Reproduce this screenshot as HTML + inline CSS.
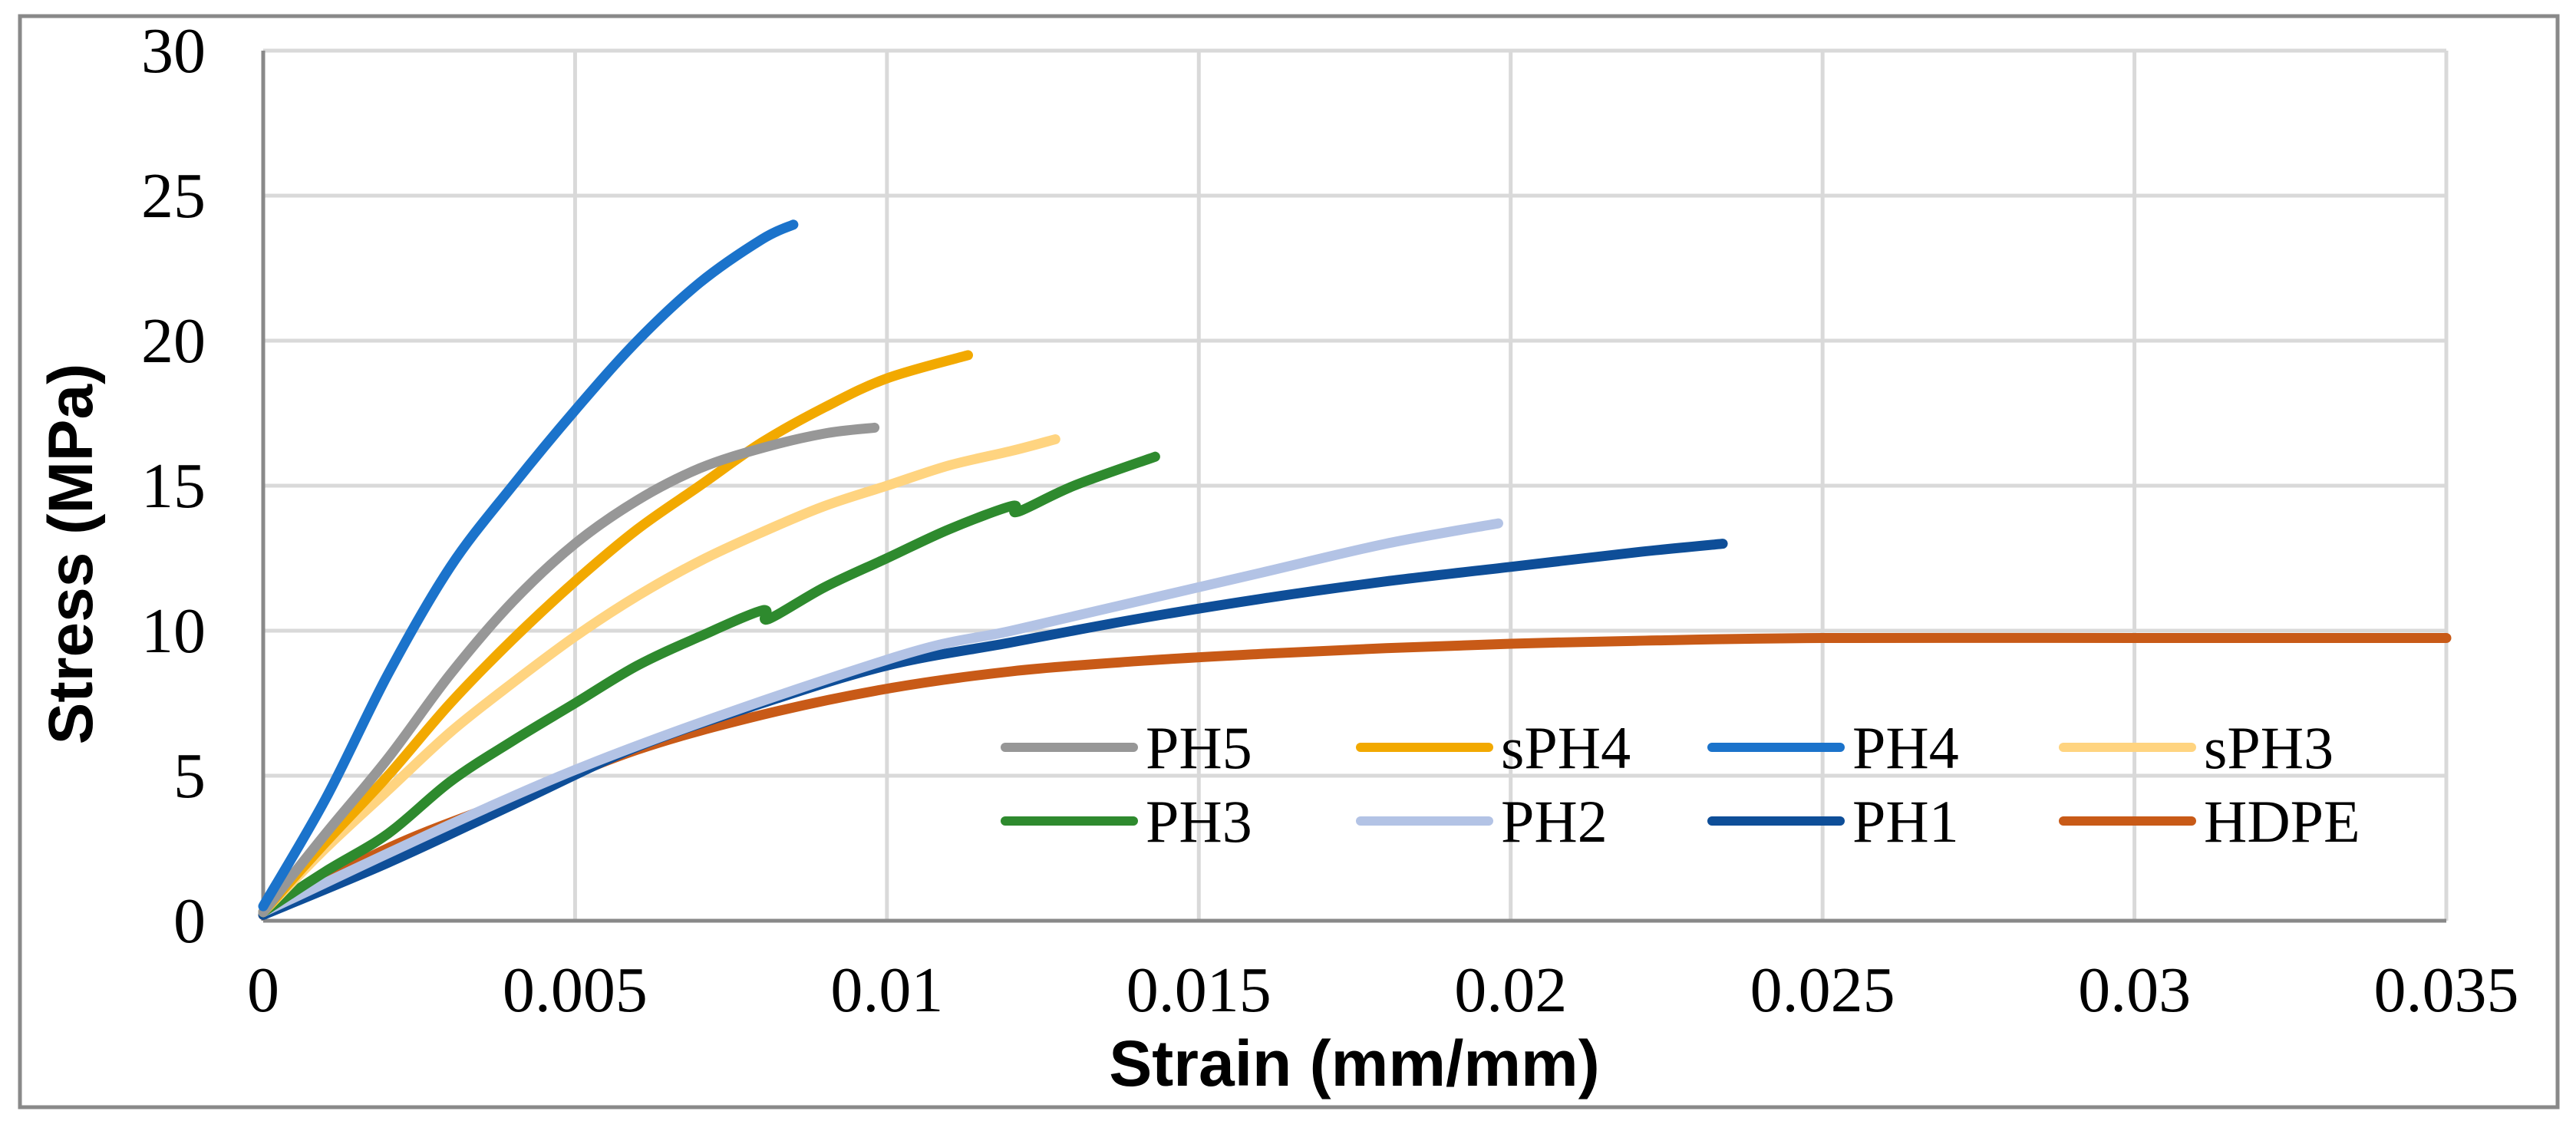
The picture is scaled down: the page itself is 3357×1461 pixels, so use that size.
<!DOCTYPE html>
<html><head><meta charset="utf-8"><style>
html,body{margin:0;padding:0;background:#fff;}
svg{display:block;}
</style></head><body>
<svg id="chart" width="3357" height="1461" xmlns="http://www.w3.org/2000/svg">
<rect x="26" y="21" width="3307" height="1422" fill="#fff" stroke="#898989" stroke-width="5"/>
<g id="grid"></g>
<g id="axes"></g>
<g id="series"></g>
<g id="legend"></g>
<text x="1765" y="1415" text-anchor="middle" font-family="Liberation Sans, sans-serif" font-weight="bold" font-size="84" fill="#000">Strain (mm/mm)</text>
<text transform="translate(120,722) rotate(-90)" text-anchor="middle" font-family="Liberation Sans, sans-serif" font-weight="bold" font-size="82" fill="#000">Stress (MPa)</text>
</svg>
<script>
const xTicks = [0, 0.005, 0.01, 0.015, 0.02, 0.025, 0.03, 0.035];
const xTickLabels = ["0", "0.005", "0.01", "0.015", "0.02", "0.025", "0.03", "0.035"];
const yTicks = [0, 5, 10, 15, 20, 25, 30];
const yTickLabels = ["0", "5", "10", "15", "20", "25", "30"];
const seriesNames = ["PH5", "sPH4", "PH4", "sPH3", "PH3", "PH2", "PH1", "HDPE"];
const seriesColors = ["#979797", "#F2A900", "#1B73CB", "#FFD480", "#2E8A2E", "#B3C3E5", "#0E4E98", "#C85A17"];
const ph5 = [[0,0.3],[0.001,3],[0.002,5.6],[0.003,8.5],[0.004,11],[0.005,13],[0.006,14.5],[0.007,15.6],[0.008,16.3],[0.009,16.8],[0.0098,17]];
const sph4 = [[0,0.3],[0.001,2.7],[0.002,5],[0.003,7.5],[0.004,9.7],[0.005,11.7],[0.006,13.5],[0.007,15],[0.008,16.5],[0.009,17.7],[0.010,18.7],[0.0113,19.5]];
const ph4 = [[0,0.5],[0.001,4.2],[0.002,8.5],[0.003,12.2],[0.004,15],[0.005,17.6],[0.006,20],[0.007,22],[0.008,23.5],[0.0085,24]];
const sph3 = [[0,0.3],[0.001,2.5],[0.002,4.5],[0.003,6.5],[0.004,8.2],[0.005,9.8],[0.006,11.2],[0.007,12.4],[0.008,13.4],[0.009,14.3],[0.010,15],[0.011,15.7],[0.012,16.2],[0.0127,16.6]];
const ph3 = [[0,0.3],[0.001,1.7],[0.002,3],[0.003,4.8],[0.004,6.2],[0.005,7.5],[0.006,8.8],[0.007,9.8],[0.008,10.7],[0.0081,10.4],[0.009,11.5],[0.010,12.5],[0.011,13.5],[0.012,14.3],[0.0121,14.1],[0.013,15],[0.0143,16]];
const ph2 = [[0,0.3],[0.005,5.2],[0.010,9],[0.012,10],[0.014,11],[0.016,12],[0.018,13],[0.0198,13.7]];
const ph1 = [[0,0.2],[0.002,2],[0.004,4],[0.006,6],[0.008,7.5],[0.010,8.8],[0.012,9.6],[0.014,10.4],[0.016,11.1],[0.018,11.7],[0.020,12.2],[0.022,12.7],[0.0234,13]];
const hdpe = [[0,0.2],[0.002,2.5],[0.004,4.2],[0.006,5.9],[0.008,7.1],[0.010,8],[0.012,8.6],[0.014,8.95],[0.016,9.2],[0.018,9.4],[0.020,9.55],[0.022,9.65],[0.025,9.75],[0.030,9.75],[0.035,9.75]];
const seriesData = [ph5, sph4, ph4, sph3, ph3, ph2, ph1, hdpe];

const NS = "http://www.w3.org/2000/svg";
const L = 343, R = 3188, T = 66, B = 1200;
const xS = v => L + (v - 0) / 0.035 * (R - L);
const yS = v => B - v / 30 * (B - T);
function mk(tag, attrs, parent) {
  const e = document.createElementNS(NS, tag);
  for (const k in attrs) e.setAttribute(k, attrs[k]);
  parent.appendChild(e);
  return e;
}
function smoothPath(pts) {
  const P = pts.map(p => [xS(p[0]), yS(p[1])]);
  let d = "M" + P[0][0].toFixed(1) + "," + P[0][1].toFixed(1);
  for (let i = 0; i < P.length - 1; i++) {
    const p0 = P[i - 1] || P[i], p1 = P[i], p2 = P[i + 1], p3 = P[i + 2] || P[i + 1];
    const c1 = [p1[0] + (p2[0] - p0[0]) / 6, p1[1] + (p2[1] - p0[1]) / 6];
    const c2 = [p2[0] - (p3[0] - p1[0]) / 6, p2[1] - (p3[1] - p1[1]) / 6];
    d += " C" + c1[0].toFixed(1) + "," + c1[1].toFixed(1) + " " + c2[0].toFixed(1) + "," + c2[1].toFixed(1) + " " + p2[0].toFixed(1) + "," + p2[1].toFixed(1);
  }
  return d;
}
const grid = document.getElementById("grid");
const axes = document.getElementById("axes");
xTicks.forEach((t, i) => {
  if (i > 0) {
    const g = mk("line", {x1: xS(t), x2: xS(t), y1: T, y2: B, stroke: "#d9d9d9", "stroke-width": 5}, grid);
    
    
  }
  const tx = mk("text", {x: xS(t), y: 1318, "text-anchor": "middle", "font-family": "Liberation Serif, serif", "font-size": 84, fill: "#000"}, axes);
  tx.textContent = xTickLabels[i];
  
  
});
yTicks.forEach((t, i) => {
  if (i > 0) {
    const g = mk("line", {x1: L, x2: R, y1: yS(t), y2: yS(t), stroke: "#d9d9d9", "stroke-width": 5}, grid);
    
    
  }
  const tx = mk("text", {x: 268, y: yS(t) + 28, "text-anchor": "end", "font-family": "Liberation Serif, serif", "font-size": 84, fill: "#000"}, axes);
  tx.textContent = yTickLabels[i];
  
  
});
const xa = mk("line", {x1: L, x2: R, y1: B, y2: B, stroke: "#898989", "stroke-width": 5}, axes);


const ya = mk("line", {x1: L, x2: L, y1: T, y2: B, stroke: "#898989", "stroke-width": 5}, axes);



const sg = document.getElementById("series");
const drawOrder = [7, 6, 5, 4, 3, 1, 0, 2];
drawOrder.forEach(i => {
  const p = mk("path", {d: smoothPath(seriesData[i]), fill: "none", stroke: seriesColors[i], "stroke-width": 13, "stroke-linejoin": "round", "stroke-linecap": "round"}, sg);
  
  
});

const lg = document.getElementById("legend");
const colX = [1310, 1773, 2231, 2689];
const rowY = [974, 1070];
seriesNames.forEach((n, i) => {
  const cx = colX[i % 4], cy = rowY[Math.floor(i / 4)];
  const ln = mk("line", {x1: cx, x2: cx + 167, y1: cy, y2: cy, stroke: seriesColors[i], "stroke-width": 12, "stroke-linecap": "round"}, lg);
  
  
  const tx = mk("text", {x: cx + 183, y: cy + 27, "font-family": "Liberation Serif, serif", "font-size": 78, fill: "#000"}, lg);
  tx.textContent = n;
  
  
});
</script>
</body></html>
